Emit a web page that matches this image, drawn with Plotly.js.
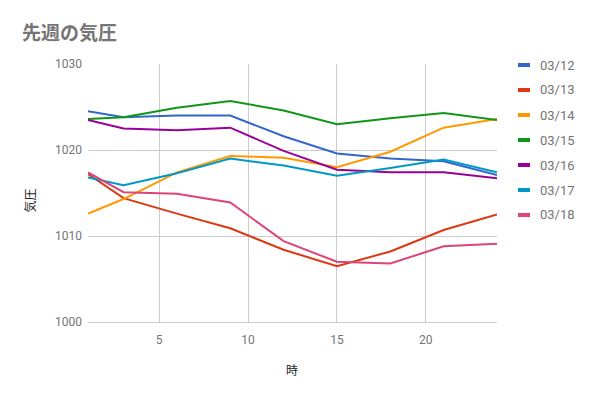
<!DOCTYPE html>
<html><head><meta charset="utf-8">
<script src="https://cdn.plot.ly/plotly-3.0.1.min.js"></script>
<style>html,body{margin:0;padding:0;background:#fff}#chart{width:591px;height:397px}</style>
</head><body><div id="chart"></div>
<script>
const hours = [1, 3, 6, 9, 12, 15, 18, 21, 24];
const seriesNames = ['03/12', '03/13', '03/14', '03/15', '03/16', '03/17', '03/18'];
const d0312 = [1024.5, 1023.8, 1024.0, 1024.0, 1021.6, 1019.6, 1019.0, 1018.7, 1017.1];
const d0313 = [1017.2, 1014.4, 1012.6, 1010.9, 1008.4, 1006.5, 1008.2, 1010.7, 1012.5];
const d0314 = [1012.6, 1014.3, 1017.4, 1019.3, 1019.1, 1018.0, 1019.8, 1022.6, 1023.6];
const d0315 = [1023.6, 1023.8, 1024.9, 1025.7, 1024.6, 1023.0, 1023.7, 1024.3, 1023.5];
const d0316 = [1023.5, 1022.5, 1022.3, 1022.6, 1019.9, 1017.7, 1017.4, 1017.4, 1016.7];
const d0317 = [1016.8, 1015.9, 1017.3, 1019.0, 1018.2, 1017.0, 1017.9, 1018.9, 1017.4];
const d0318 = [1017.4, 1015.1, 1014.9, 1013.9, 1009.4, 1007.0, 1006.8, 1008.8, 1009.1];
const seriesData = [d0312, d0313, d0314, d0315, d0316, d0317, d0318];
const colors = ['#3366cc', '#dc3912', '#ff9900', '#109618', '#990099', '#0099c6', '#dd4477'];
const xTitle = '時', yTitle = '気圧', chartTitle = '先週の気圧';

const W = 591, H = 397;
const L = 88, R = 497, T = 64, B = 322;
const px = v => (v - L) / (R - L);
const py = v => (B - v) / (B - T);

const traces = seriesNames.map((n, i) => ({
  x: hours, y: seriesData[i], name: n, type: 'scatter', mode: 'lines',
  line: {color: colors[i], width: 2}, hoverinfo: 'none'
}));

const shapes = [], annotations = [];
seriesNames.forEach((n, i) => {
  const yc = 65 + i * 25;
  shapes.push({type: 'rect', xref: 'paper', yref: 'paper',
    x0: px(518), x1: px(530), y0: py(yc + 2), y1: py(yc - 2),
    fillcolor: colors[i], line: {width: 0}});
  annotations.push({xref: 'paper', yref: 'paper', x: px(538), y: py(yc),
    xanchor: 'left', yanchor: 'middle', text: n, showarrow: false,
    font: {family: 'Roboto, sans-serif', size: 13, color: '#757575'}});
});
annotations.push({xref: 'paper', yref: 'paper', x: px(291.5), y: py(370), xanchor: 'center', yanchor: 'middle',
  text: xTitle, showarrow: false, font: {family: '"Noto Sans CJK JP", sans-serif', size: 12, color: '#222'}});
annotations.push({xref: 'paper', yref: 'paper', x: px(28.5), y: py(201), xanchor: 'center', yanchor: 'middle',
  text: yTitle, textangle: -90, showarrow: false, font: {family: '"Noto Sans CJK JP", sans-serif', size: 12, color: '#222'}});

const layout = {
  width: W, height: H,
  margin: {l: L, r: W - R, t: T, b: H - B, pad: 0},
  paper_bgcolor: '#fff', plot_bgcolor: '#fff',
  showlegend: false,
  title: {text: '<b>' + chartTitle + '</b>', xref: 'container', yref: 'container',
    x: 22 / W, xanchor: 'left', y: 1 - 33 / H, yanchor: 'middle',
    font: {family: '"Noto Sans CJK JP", sans-serif', size: 19, color: '#757575'}},
  xaxis: {range: [1, 24], tick0: 0, dtick: 5, showgrid: true, gridcolor: '#cccccc', gridwidth: 1,
    zeroline: false, showline: true, linecolor: '#cccccc', linewidth: 1, ticks: '', ticklabelstandoff: 7,
    tickfont: {family: 'Roboto, sans-serif', size: 12, color: '#757575'}},
  yaxis: {range: [1000, 1030], tick0: 1000, dtick: 10, showgrid: true, gridcolor: '#cccccc', gridwidth: 1,
    zeroline: false, showline: false, ticks: '', ticklabelstandoff: 5,
    tickfont: {family: 'Roboto, sans-serif', size: 12, color: '#757575'}},
  shapes: shapes, annotations: annotations
};

Plotly.newPlot('chart', traces, layout, {displayModeBar: false, staticPlot: true});
</script></body></html>
